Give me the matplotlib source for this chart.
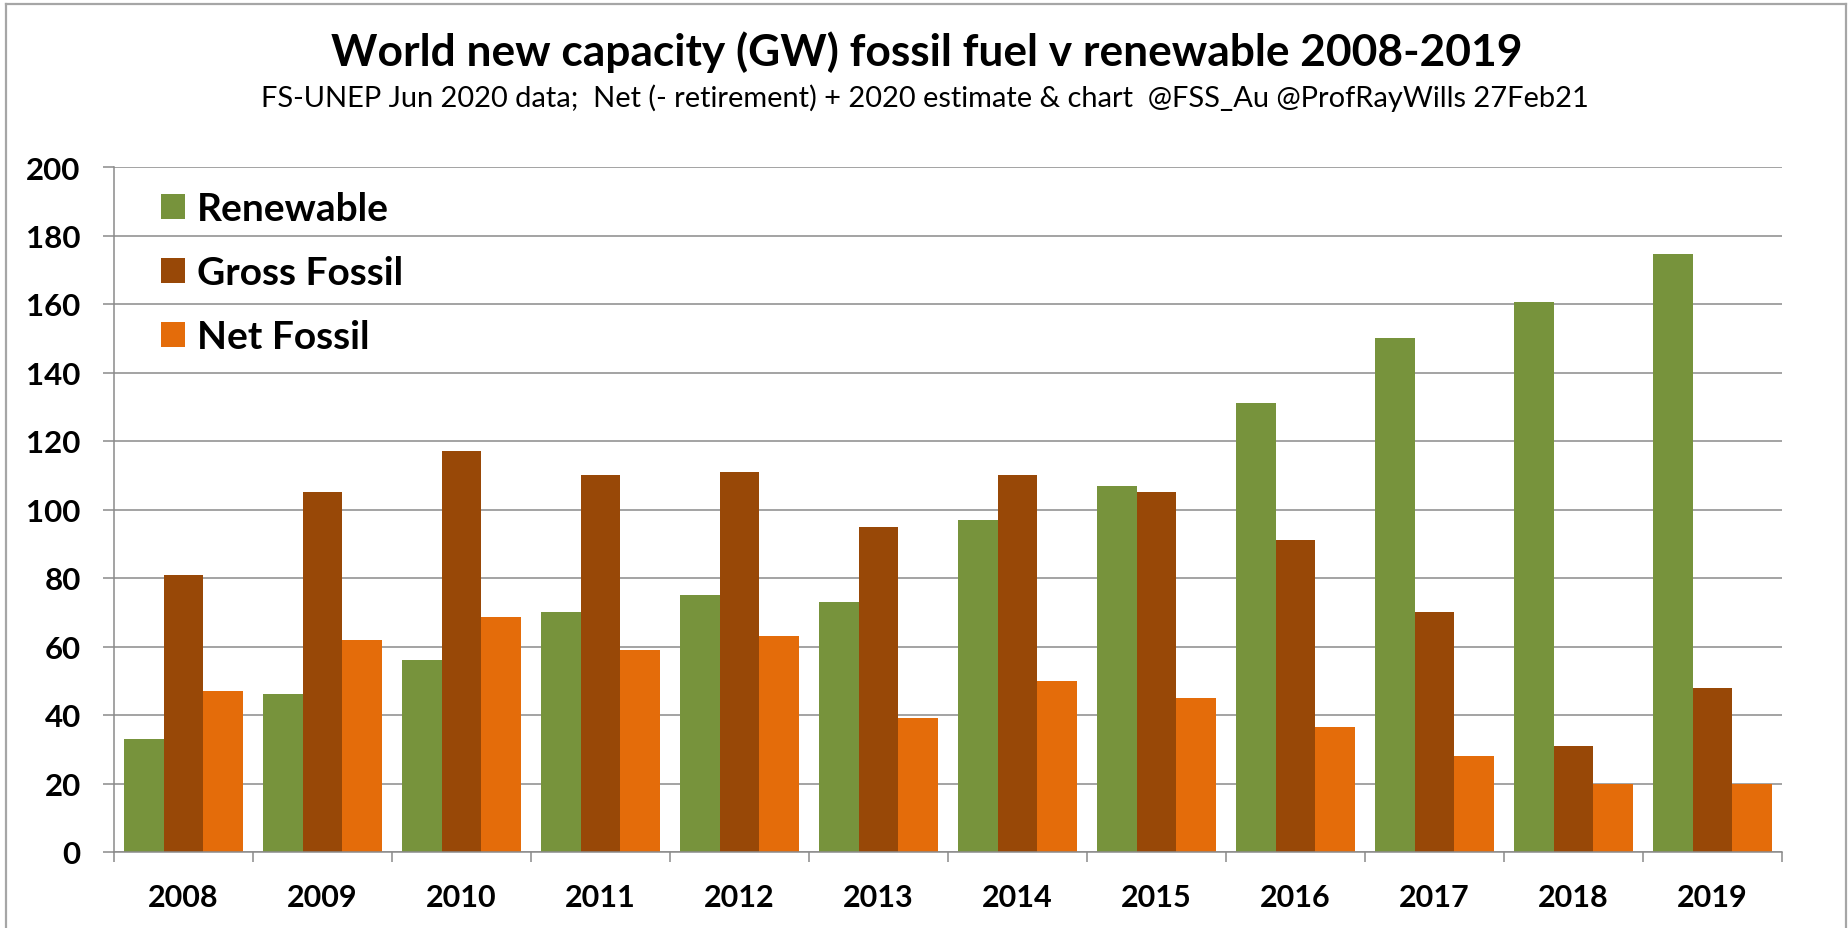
import matplotlib
matplotlib.use("Agg")
import matplotlib.pyplot as plt
from matplotlib.patches import Patch
import matplotlib.lines as mlines
import numpy as np

years = ["2008", "2009", "2010", "2011", "2012", "2013", "2014", "2015", "2016", "2017", "2018", "2019"]
renewable = [33, 46, 56, 70, 75, 73, 97, 107, 131, 150, 160.5, 174.5]
gross_fossil = [81, 105, 117, 110, 111, 95, 110, 105, 91, 70, 31, 48]
net_fossil = [47, 62, 68.5, 59, 63, 39, 50, 45, 36.5, 28, 20, 20]
series_names = ["Renewable", "Gross Fossil", "Net Fossil"]
colors = ["#77933C", "#984807", "#E46C0A"]
yticks = list(range(0, 201, 20))

title = "World new capacity (GW) fossil fuel v renewable 2008-2019"
subtitle = "FS-UNEP Jun 2020 data;  Net (- retirement) + 2020 estimate & chart  @FSS_Au @ProfRayWills 27Feb21"

FONT = ["Lato", "DejaVu Sans"]
W, H = 1849, 929
fig = plt.figure(figsize=(W / 100, H / 100), dpi=100)
fig.patch.set_facecolor("white")

ax = fig.add_axes([114 / W, 1 - 853 / H, (1782 - 114) / W, (853 - 168) / H])
x = np.arange(len(years))
bw = 0.283
for k, (vals, name, c) in enumerate(zip([renewable, gross_fossil, net_fossil], series_names, colors)):
    ax.bar(x + (k - 1) * bw, vals, width=bw, color=c, edgecolor="none", zorder=3, label=name)

grid_c = "#8a8a8a"
ax.set_xlim(-0.5, len(years) - 0.5)
ax.set_ylim(0, 200)
ax.set_yticks(yticks)
ax.set_yticklabels([str(v) for v in yticks], fontfamily=FONT, fontweight="bold", fontsize=22.5)
ax.set_xticks(x)
ax.set_xticklabels(years, fontfamily=FONT, fontweight="bold", fontsize=22)
ax.set_xticks(np.arange(-0.5, len(years)), minor=True)
ax.tick_params(axis="x", which="major", length=0, pad=22)
ax.tick_params(axis="x", which="minor", length=7.5, width=1.1, color=grid_c)
ax.tick_params(axis="y", which="major", length=8, width=1.1, color=grid_c, pad=16)
ax.yaxis.grid(True, color=grid_c, linewidth=1.1, zorder=0)
ax.set_axisbelow(True)
for s in ["top", "right"]:
    ax.spines[s].set_visible(False)
for s in ["left", "bottom"]:
    ax.spines[s].set_color(grid_c)
    ax.spines[s].set_linewidth(1.1)
    ax.spines[s].set_zorder(4)

handles = [Patch(facecolor=c, edgecolor="none", label=n) for c, n in zip(colors, series_names)]
leg = fig.legend(handles=handles, loc="upper left", bbox_to_anchor=(161 / W, 1 - 192 / H),
                 frameon=False, borderpad=0, borderaxespad=0, handlelength=0.62, handleheight=0.62,
                 handletextpad=0.3, labelspacing=0.75,
                 prop={"family": FONT, "weight": "bold", "size": 28})

# titles, fitted to reference widths
def fitted_text(s, xc, ybase, target_w, weight, fs0):
    t = fig.text(xc / W, 1 - ybase / H, s, ha="center", va="baseline",
                 fontfamily=FONT, fontweight=weight, fontsize=fs0)
    r = fig.canvas.get_renderer()
    bb = t.get_window_extent(renderer=r)
    t.set_fontsize(fs0 * target_w / bb.width)
    return t

fitted_text(title, 927, 66, 1190, "bold", 28)
fitted_text(subtitle, 925, 107, 1327, "normal", 20)

# outer frame
frame_c = "#a6a6a6"
fig.add_artist(mlines.Line2D([6 / W, 6 / W], [0, 1 - 5 / H], transform=fig.transFigure, color=frame_c, lw=1.6))
fig.add_artist(mlines.Line2D([1846 / W, 1846 / W], [0, 1 - 5 / H], transform=fig.transFigure, color=frame_c, lw=1.6))
fig.add_artist(mlines.Line2D([6 / W, 1846 / W], [1 - 5 / H, 1 - 5 / H], transform=fig.transFigure, color=frame_c, lw=1.6))

fig.savefig("out.png", dpi=100, facecolor="white")
